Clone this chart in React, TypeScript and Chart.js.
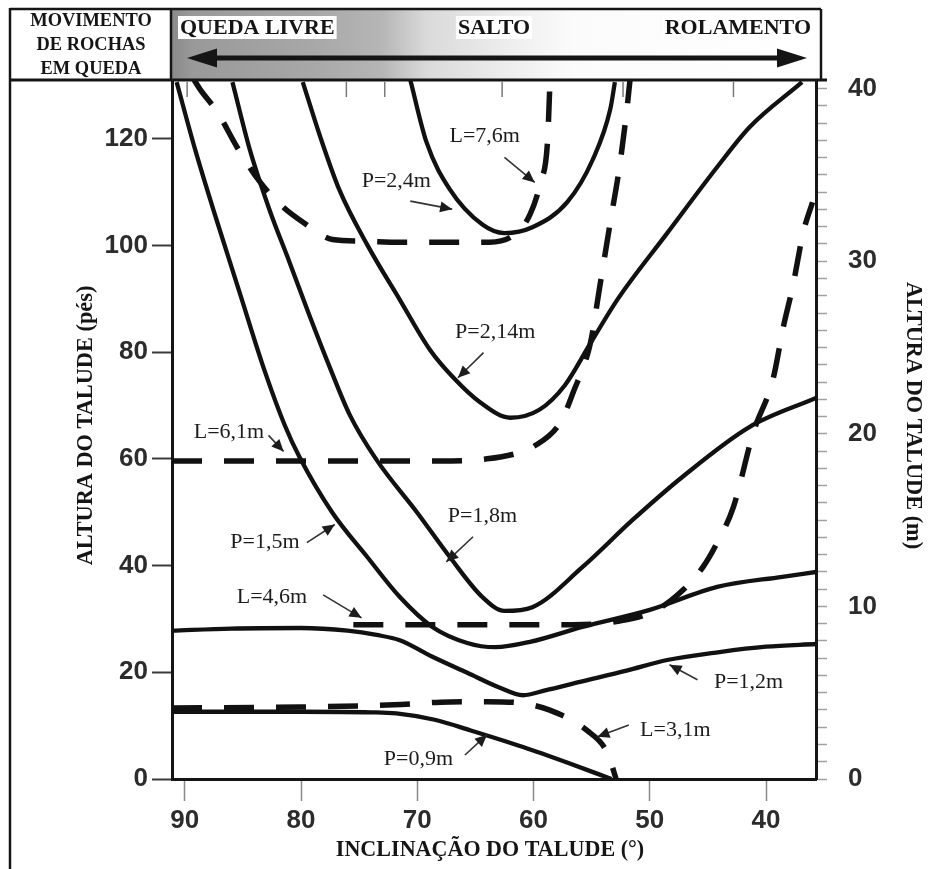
import { useEffect, useRef } from 'react';
import { Chart, registerables } from 'chart.js';

Chart.register(...registerables);

// Axis ranges: slope angle (degrees), height in feet (left) and metres (right)
const DEG_MIN = 35.7;
const DEG_MAX = 91.1;
const FT_MAX = 131;
const M_MAX = 40.5;

const degTicks = [90, 80, 70, 60, 50, 40];
const ftTicks = [0, 20, 40, 60, 80, 100, 120];
const mLabelTicks = [0, 10, 20, 30, 40];
const topRimTicks = [89.8, 76.1, 72.8, 62.7, 52.3, 42.8];

// Solid curves (P = rock catchment width)
const p09Deg = [91.1, 80, 74, 71.8, 68.5, 65.4, 60.9, 57, 53.3];
const p09Ft = [12.6, 12.6, 12.5, 12.3, 11.1, 9.1, 6.0, 3.0, 0];

const p12Deg = [91.1, 86, 80, 76, 73.5, 71.5, 68.7, 65.7, 63, 60.9, 59, 56, 52, 48.5, 44, 40, 35.7];
const p12Ft = [27.8, 28.2, 28.3, 27.8, 27.0, 26.0, 22.9, 19.9, 17.2, 15.7, 16.6, 18.2, 20.3, 22.3, 23.8, 24.8, 25.3];

const p15Deg = [90.7, 89.1, 87.4, 85.3, 83.1, 81.4, 80.1, 77.3, 74.3, 71.5, 68.7, 65.7, 63.3, 60.3, 55.8, 50, 44.2, 38.6, 35.7];
const p15Ft = [130.6, 117.9, 105.7, 91.3, 76.3, 66.3, 60.2, 49.9, 41.6, 34.1, 28.5, 25.5, 24.7, 25.7, 28.5, 31.7, 36.0, 37.9, 38.8];

const p18Deg = [85.9, 84.4, 82.7, 81.0, 79.3, 77.5, 75.8, 73.5, 70.0, 67.2, 64.4, 62.5, 60.1, 55.8, 51.5, 47.2, 41.4, 35.7];
const p18Ft = [130.6, 117.9, 106.6, 96.9, 87.0, 77.0, 68.2, 59.8, 49.9, 41.6, 34.1, 31.5, 32.2, 39.7, 48.5, 56.6, 66.0, 71.4];

const p214Deg = [79.85, 78.4, 76.7, 74.3, 71.5, 68.9, 66.8, 64.6, 62.0, 59.5, 57.3, 55.2, 52.8, 48.5, 44.2, 41.4, 36.9];
const p214Ft = [130.6, 120.7, 110.4, 100.1, 89.8, 80.4, 75.0, 70.6, 67.7, 69.2, 73.8, 81.3, 89.8, 102.3, 114.7, 122.2, 130.6];

const p24Deg = [70.6, 69.2, 67.2, 64.4, 62.5, 60.1, 57.1, 54.9, 53.4, 53.0];
const p24Ft = [131, 119.3, 110.5, 103.9, 102.3, 103.4, 108.1, 116.1, 125.5, 130.6];

// Dashed curves (L = rock catchment depth)
const l31Deg = [91.1, 80, 72, 68, 64, 61, 58.6, 55.4, 53.6, 52.9];
const l31Ft = [13.3, 13.5, 13.9, 14.4, 14.5, 14.2, 12.9, 9.1, 4.7, 0];

const l46Deg = [75.5, 70, 64.6, 56.6, 52.6, 49.4, 47.1, 45.4, 44.2, 42.8, 41.1, 39.4, 38.5, 37.7, 36.8, 36.0];
const l46Ft = [28.9, 28.9, 28.9, 28.9, 29.6, 31.7, 35.5, 39.8, 44.3, 51.0, 64.9, 74.9, 84.8, 92.3, 102.4, 108.1];

const l61Deg = [91.1, 85, 75, 68, 64, 61.5, 60, 57.7, 56.6, 55.1, 54.3, 53.4, 52.6, 52.0, 51.7];
const l61Ft = [59.6, 59.6, 59.6, 59.6, 60.0, 61.0, 62.3, 66.8, 72.4, 81.8, 92.3, 104.3, 114.8, 124.9, 131];

const l76Deg = [89.2, 88.7, 87.2, 85.5, 83.5, 81.6, 79.8, 77.3, 74.7, 71.5, 66.3, 63.8, 61.6, 60.3, 59.4, 58.8, 58.6];
const l76Ft = [131, 129.3, 125, 118.4, 111.8, 107.3, 104.3, 101.1, 100.8, 100.6, 100.6, 100.6, 102.1, 105.8, 111.8, 119.3, 129.8];

const curves = [
  { name: 'P=0,9m', deg: p09Deg, ft: p09Ft, dashed: false },
  { name: 'P=1,2m', deg: p12Deg, ft: p12Ft, dashed: false },
  { name: 'P=1,5m', deg: p15Deg, ft: p15Ft, dashed: false },
  { name: 'P=1,8m', deg: p18Deg, ft: p18Ft, dashed: false },
  { name: 'P=2,14m', deg: p214Deg, ft: p214Ft, dashed: false },
  { name: 'P=2,4m', deg: p24Deg, ft: p24Ft, dashed: false },
  { name: 'L=3,1m', deg: l31Deg, ft: l31Ft, dashed: true },
  { name: 'L=4,6m', deg: l46Deg, ft: l46Ft, dashed: true },
  { name: 'L=6,1m', deg: l61Deg, ft: l61Ft, dashed: true },
  { name: 'L=7,6m', deg: l76Deg, ft: l76Ft, dashed: true },
];

// Curve labels with pointer arrows (all in data units)
const noteText = ['L=7,6m', 'P=2,4m', 'P=2,14m', 'L=6,1m', 'P=1,5m', 'P=1,8m', 'L=4,6m', 'P=1,2m', 'L=3,1m', 'P=0,9m'];
const noteDeg = [64.2, 71.8, 63.3, 86.2, 83.1, 64.4, 82.5, 41.5, 47.8, 69.9];
const noteFt = [120.5, 112, 83.7, 64.9, 44.3, 49.2, 34.1, 18.2, 9.2, 3.8];
const arrowFromDeg = [62.5, 70.6, 64.3, 82.8, 79.5, 65.2, 78.1, 45.9, 51.8, 65.9];
const arrowFromFt = [116.5, 108.3, 79.9, 64.4, 44.3, 45.4, 34.5, 18.6, 10.1, 4.5];
const arrowToDeg = [59.9, 67.0, 66.5, 81.5, 77.1, 67.5, 74.8, 48.3, 54.5, 64.0];
const arrowToFt = [111.8, 106.8, 75.2, 61.4, 47.7, 40.7, 30.2, 21.4, 7.9, 8.3];

const SERIF = '"Liberation Serif", "Times New Roman", serif';
const INK = '#151515';

function squeezedText(
  ctx: CanvasRenderingContext2D,
  text: string,
  x: number,
  y: number,
  font: string,
  sx: number,
  rot = 0,
) {
  ctx.save();
  ctx.translate(x, y);
  ctx.rotate(rot);
  ctx.scale(sx, 1);
  ctx.font = font;
  ctx.fillStyle = INK;
  ctx.textAlign = 'center';
  ctx.textBaseline = 'middle';
  ctx.fillText(text, 0, 0);
  ctx.restore();
}

function line(ctx: CanvasRenderingContext2D, x1: number, y1: number, x2: number, y2: number, w: number, c = INK) {
  ctx.save();
  ctx.strokeStyle = c;
  ctx.lineWidth = w;
  ctx.beginPath();
  ctx.moveTo(x1, y1);
  ctx.lineTo(x2, y2);
  ctx.stroke();
  ctx.restore();
}

function arrowHead(ctx: CanvasRenderingContext2D, tx: number, ty: number, fx: number, fy: number, len: number, half: number) {
  const a = Math.atan2(ty - fy, tx - fx);
  ctx.beginPath();
  ctx.moveTo(tx, ty);
  ctx.lineTo(tx - len * Math.cos(a) + half * Math.sin(a), ty - len * Math.sin(a) - half * Math.cos(a));
  ctx.lineTo(tx - len * Math.cos(a) - half * Math.sin(a), ty - len * Math.sin(a) + half * Math.cos(a));
  ctx.closePath();
  ctx.fill();
}

const decorPlugin = {
  id: 'decor',
  beforeDraw(chart: any) {
    const ctx: CanvasRenderingContext2D = chart.ctx;
    const { left, right, top } = chart.chartArea;
    ctx.save();
    ctx.fillStyle = '#ffffff';
    ctx.fillRect(0, 0, chart.width, chart.height);

    // Header band: shaded strip for the rock-fall modes
    const hTop = 9;
    const hBottom = top - 1;
    const hRight = right + 5;
    const g = ctx.createLinearGradient(left, 0, hRight, 0);
    const span = hRight - left;
    g.addColorStop(0, '#8a8a8a');
    g.addColorStop(20 / span, '#999999');
    g.addColorStop(150 / span, '#a9a9a9');
    g.addColorStop(210 / span, '#b6b6b6');
    g.addColorStop(235 / span, '#cacaca');
    g.addColorStop(255 / span, '#dadada');
    g.addColorStop(330 / span, '#ececec');
    g.addColorStop(400 / span, '#fbfbfb');
    g.addColorStop(1, '#ffffff');
    ctx.fillStyle = g;
    ctx.fillRect(left, hTop, hRight - left, hBottom - hTop);

    line(ctx, 10, hTop, hRight, hTop, 2.5);
    line(ctx, hRight, hTop, hRight, hBottom, 2.5);
    line(ctx, left - 1, hTop, left - 1, hBottom, 2.5);
    line(ctx, 10, hTop - 1, 10, chart.height, 2.5);

    // Left cell title
    const cx = (10 + left) / 2;
    const cellFont = `bold 19px ${SERIF}`;
    squeezedText(ctx, 'MOVIMENTO', cx, 21, cellFont, 0.97);
    squeezedText(ctx, 'DE ROCHAS', cx, 45, cellFont, 0.97);
    squeezedText(ctx, 'EM QUEDA', cx, 69, cellFont, 0.97);

    // Mode labels
    const modeFont = `bold 22px ${SERIF}`;
    ctx.font = modeFont;
    ctx.textBaseline = 'middle';
    const labels: [string, number, CanvasTextAlign][] = [
      ['QUEDA LIVRE', left + 8, 'left'],
      ['SALTO', (left + right) / 2, 'center'],
      ['ROLAMENTO', right - 5, 'right'],
    ];
    labels.forEach(([t, x, align]) => {
      const w = ctx.measureText(t).width;
      const x0 = align === 'left' ? x : align === 'center' ? x - w / 2 : x - w;
      ctx.fillStyle = '#ffffff';
      ctx.fillRect(x0 - 2, 16, w + 4, 23);
      ctx.fillStyle = INK;
      ctx.textAlign = align;
      ctx.fillText(t, x, 28);
    });

    // Double-headed arrow across the band
    const ay = 58;
    const ax1 = left + 15;
    const ax2 = right - 9;
    line(ctx, ax1 + 20, ay, ax2 - 20, ay, 5);
    ctx.fillStyle = INK;
    arrowHead(ctx, ax1, ay, ax1 + 30, ay, 30, 9.5);
    arrowHead(ctx, ax2, ay, ax2 - 30, ay, 30, 9.5);
    ctx.restore();
  },
  afterDatasetsDraw(chart: any) {
    const ctx: CanvasRenderingContext2D = chart.ctx;
    const xs = chart.scales.x;
    const ys = chart.scales.y;
    ctx.save();
    ctx.font = `22px ${SERIF}`;
    ctx.textAlign = 'center';
    ctx.textBaseline = 'middle';
    noteText.forEach((t, i) => {
      ctx.fillStyle = '#1c1c1c';
      ctx.fillText(t, xs.getPixelForValue(noteDeg[i]), ys.getPixelForValue(noteFt[i]));
      const fx = xs.getPixelForValue(arrowFromDeg[i]);
      const fy = ys.getPixelForValue(arrowFromFt[i]);
      const tx = xs.getPixelForValue(arrowToDeg[i]);
      const ty = ys.getPixelForValue(arrowToFt[i]);
      line(ctx, fx, fy, tx, ty, 1.6, '#333');
      ctx.fillStyle = '#1c1c1c';
      arrowHead(ctx, tx, ty, fx, fy, 12, 5.5);
    });
    ctx.restore();
  },
  afterDraw(chart: any) {
    const ctx: CanvasRenderingContext2D = chart.ctx;
    const { left, right, top, bottom } = chart.chartArea;
    const xs = chart.scales.x;

    // Upper frame line and rim ticks
    line(ctx, 10, top, right + 11, top, 3);
    topRimTicks.forEach((d) => {
      const px = xs.getPixelForValue(d);
      line(ctx, px, top + 2, px, top + 17, 1.5, '#7a7a7a');
    });

    // Axis titles
    const titleFont = `bold 24px ${SERIF}`;
    squeezedText(ctx, 'INCLINAÇÃO DO TALUDE (°)', (left + right) / 2 - 4, bottom + 71, titleFont, 0.92);
    squeezedText(ctx, 'ALTURA DO TALUDE (pés)', 86, (top + bottom) / 2 - 4, titleFont, 0.93, -Math.PI / 2);
    squeezedText(ctx, 'ALTURA DO TALUDE (m)', right + 97, (top + bottom) / 2 - 14, titleFont, 0.93, Math.PI / 2);
  },
};

const tickFont = { family: 'Liberation Sans', size: 26, weight: 'bold' as const };
const tickColor = '#2c2c2c';

export default function App() {
  const ref = useRef<HTMLCanvasElement>(null);

  useEffect(() => {
    if (!ref.current) return;
    const datasets = curves.map((c) => ({
      label: c.name,
      data: c.deg.map((d, i) => ({ x: d, y: c.ft[i] })),
      borderColor: '#111111',
      borderWidth: c.dashed ? 5.5 : 4.3,
      borderDash: c.dashed ? [30, 22] : [],
      borderCapStyle: 'butt' as const,
      pointRadius: 0,
      fill: false,
      tension: 0.4,
      cubicInterpolationMode: 'monotone' as const,
      xAxisID: 'x',
      yAxisID: 'y',
    }));

    const chart = new Chart(ref.current, {
      type: 'line',
      data: { datasets },
      plugins: [decorPlugin],
      options: {
        responsive: false,
        animation: false,
        devicePixelRatio: 1,
        layout: { padding: { top: 80, left: 0, right: 0, bottom: 0 } },
        plugins: { legend: { display: false }, tooltip: { enabled: false } },
        scales: {
          x: {
            type: 'linear',
            position: 'bottom',
            reverse: true,
            min: DEG_MIN,
            max: DEG_MAX,
            afterBuildTicks: (s: any) => {
              s.ticks = degTicks.map((v) => ({ value: v }));
            },
            afterFit: (s: any) => {
              s.height = 90;
            },
            grid: { drawOnChartArea: false, drawTicks: true, tickLength: 22, tickColor: '#8a8a8a', tickWidth: 1.5 },
            border: { display: true, color: INK, width: 3 },
            ticks: { font: tickFont, color: tickColor, padding: 4, maxRotation: 0, autoSkip: false },
          },
          y: {
            type: 'linear',
            position: 'left',
            min: 0,
            max: FT_MAX,
            afterBuildTicks: (s: any) => {
              s.ticks = ftTicks.map((v) => ({ value: v }));
            },
            afterFit: (s: any) => {
              s.width = 172;
            },
            grid: { drawOnChartArea: false, drawTicks: true, tickLength: 20, tickColor: '#3a3a3a', tickWidth: 2 },
            border: { display: true, color: INK, width: 3 },
            ticks: { font: tickFont, color: tickColor, padding: 4, autoSkip: false },
          },
          y2: {
            type: 'linear',
            position: 'right',
            min: 0,
            max: M_MAX,
            afterBuildTicks: (s: any) => {
              const t: { value: number }[] = [];
              for (let m = 0; m <= 40; m += 1) t.push({ value: m });
              s.ticks = t;
            },
            afterFit: (s: any) => {
              s.width = 115;
            },
            grid: { drawOnChartArea: false, drawTicks: true, tickLength: 11, tickColor: '#a0a0a0', tickWidth: 1.5 },
            border: { display: true, color: INK, width: 3 },
            ticks: {
              font: tickFont,
              color: tickColor,
              padding: 21,
              autoSkip: false,
              callback: (v: any) => (mLabelTicks.includes(Number(v)) ? String(v) : ''),
            },
          },
        },
      },
    });
    return () => chart.destroy();
  }, []);

  return (
    <div style={{ position: 'fixed', left: 0, top: 0, width: 931, height: 869, background: '#fff' }}>
      <canvas ref={ref} width={931} height={869} style={{ display: 'block', width: 931, height: 869 }} />
    </div>
  );
}
